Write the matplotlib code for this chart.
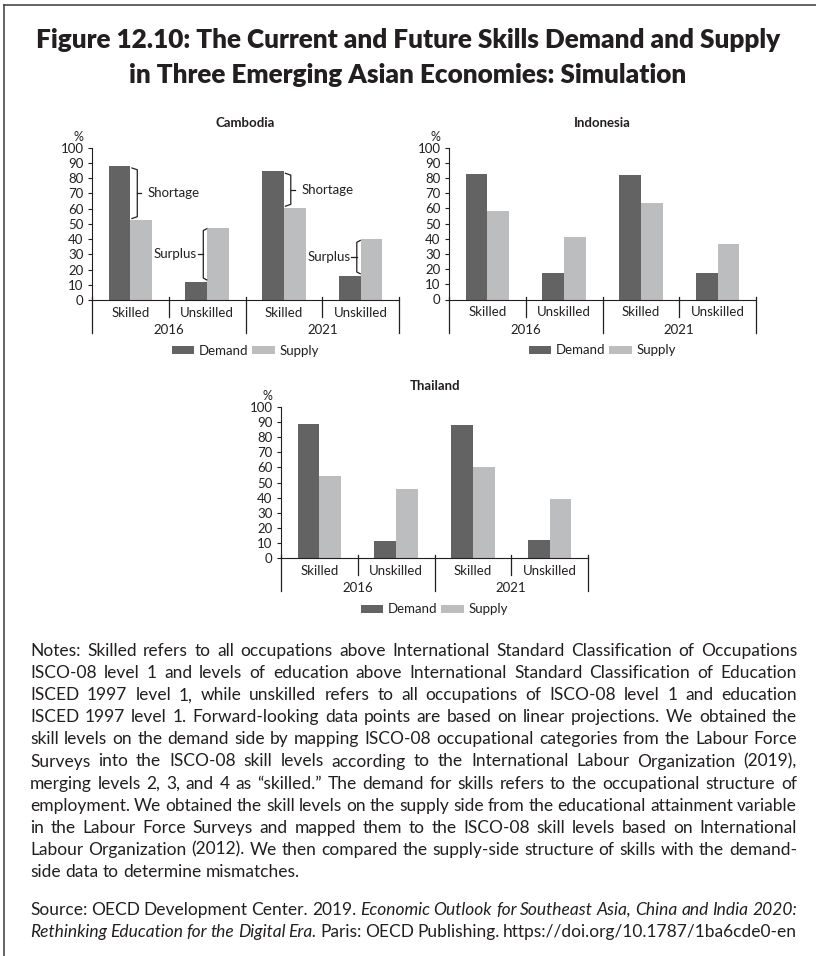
import matplotlib
matplotlib.use('Agg')
import matplotlib.pyplot as plt
from matplotlib.lines import Line2D
from matplotlib.font_manager import FontProperties

plt.rcParams['font.family'] = ['Lato', 'DejaVu Sans']

# ---- data ----
slots = ['Skilled', 'Unskilled', 'Skilled', 'Unskilled']
years = ['2016', '2021']
series = ['Demand', 'Supply']

cambodia_demand = [88.2, 12.0, 84.7, 16.0]
cambodia_supply = [52.5, 47.5, 60.6, 39.8]
indonesia_demand = [82.4, 17.4, 81.8, 17.4]
indonesia_supply = [58.5, 41.5, 63.5, 36.5]
thailand_demand = [88.4, 11.4, 87.7, 12.1]
thailand_supply = [54.3, 45.7, 60.4, 39.1]

title_lines = ['Figure 12.10: The Current and Future Skills Demand and Supply',
               'in Three Emerging Asian Economies: Simulation']

notes_lines = [
    'Notes: Skilled refers to all occupations above International Standard Classification of Occupations',
    'ISCO-08 level 1 and levels of education above International Standard Classification of Education',
    'ISCED 1997 level 1, while unskilled refers to all occupations of ISCO-08 level 1 and education',
    'ISCED 1997 level 1. Forward-looking data points are based on linear projections. We obtained the',
    'skill levels on the demand side by mapping ISCO-08 occupational categories from the Labour Force',
    'Surveys into the ISCO-08 skill levels according to the International Labour Organization (2019),',
    'merging levels 2, 3, and 4 as \u201cskilled.\u201d The demand for skills refers to the occupational structure of',
    'employment. We obtained the skill levels on the supply side from the educational attainment variable',
    'in the Labour Force Surveys and mapped them to the ISCO-08 skill levels based on International',
    'Labour Organization (2012). We then compared the supply-side structure of skills with the demand-',
    'side data to determine mismatches.',
]
source_lines = [
    [('Source: OECD Development Center. 2019.', 'normal'),
     ('Economic Outlook for Southeast Asia, China and India 2020:', 'italic')],
    [('Rethinking Education for the Digital Era.', 'italic'),
     ('Paris: OECD Publishing. https://doi.org/10.1787/1ba6cde0-en', 'normal')],
]

DARK = '#636363'
LIGHT = '#bcbdbf'
TXT = '#231f20'
W, H = 816, 956
LAB = 9.5

fig = plt.figure(figsize=(W / 100, H / 100), dpi=100)


def axes_px(left, top, right, bottom):
    return fig.add_axes([left / W, 1 - bottom / H, (right - left) / W, (bottom - top) / H])


def panel(ax, name, dem, sup, title_pad):
    x = list(range(len(slots)))
    bw = 0.285
    ax.bar([i - bw / 2 for i in x], dem, bw, color=DARK, label=series[0], linewidth=0)
    ax.bar([i + bw / 2 for i in x], sup, bw, color=LIGHT, label=series[1], linewidth=0)
    ax.set_xlim(-0.5, 3.5)
    ax.set_ylim(0, 100)
    ax.set_yticks(range(0, 101, 10))
    ax.set_xticks([])
    ax.tick_params(axis='y', length=3, width=0.8, pad=3, labelsize=9.5,
                   colors=TXT, direction='out')
    for s in ['top', 'right', 'bottom']:
        ax.spines[s].set_visible(False)
    ax.spines['left'].set_color(TXT)
    ax.spines['left'].set_linewidth(0.8)
    ax.axhline(0, color=TXT, lw=0.8, clip_on=False)
    ax.set_title(name, fontsize=9.5, fontweight='bold', color=TXT, pad=title_pad)
    ax.annotate('%', xy=(0, 1), xycoords='axes fraction', xytext=(-14, 11),
                textcoords='offset pixels', ha='center', va='center', fontsize=9, color=TXT)

    h = ax.get_position().height * H
    tr = ax.get_xaxis_transform()
    for i, lab in enumerate(slots):
        ax.annotate(lab, xy=(i, 0), xycoords=tr, xytext=(0, -13), textcoords='offset pixels',
                    ha='center', va='center', fontsize=LAB, color=TXT)
    for j, yr in enumerate(years):
        ax.annotate(yr, xy=(2 * j + 0.5, 0), xycoords=tr, xytext=(0, -30),
                    textcoords='offset pixels', ha='center', va='center', fontsize=LAB, color=TXT)
    for b in [-0.5, 0.5, 1.5, 2.5, 3.5]:
        length = 33 if b in (-0.5, 1.5, 3.5) else 17
        ax.plot([b, b], [3 / h, -length / h], transform=tr, color=TXT, lw=0.9, clip_on=False)

    ax.legend(loc='center', bbox_to_anchor=(0.5, -51 / h), ncol=2, frameon=False,
              fontsize=LAB, handlelength=1.7, handleheight=0.55, handletextpad=0.35,
              columnspacing=0.3, borderaxespad=0, labelcolor=TXT)


def brackets(ax, dem, sup):
    kw = dict(color=TXT, lw=0.9, solid_joinstyle='round', clip_on=False)
    for i, (d, s) in enumerate(zip(dem, sup)):
        if d > s:
            top, bot = d - 1.5, s + 1.0
            mid = (top + bot) / 2
            xv, xh, xt = i + 0.09, i + 0.02, i + 0.14
            ax.plot([xh, xv, xv, xh], [top, top - 1.2, bot + 1.2, bot], **kw)
            ax.plot([xv, xt], [mid, mid], **kw)
            ax.text(i + 0.23, mid, 'Shortage', ha='left', va='center', fontsize=LAB, color=TXT)
        else:
            top, bot = s - 0.7, d + 1.2
            mid = (top + bot) / 2
            xv, xh, xt = i - 0.05, i - 0.005, i - 0.12
            ax.plot([xh, xv, xv, xh], [top, top - 1.2, bot + 1.2, bot], **kw)
            ax.plot([xv, xt], [mid, mid], **kw)
            ax.text(i - 0.135, mid, 'Surplus', ha='right', va='center', fontsize=LAB, color=TXT)


ax1 = axes_px(92, 147.7, 399, 300)
ax2 = axes_px(449, 147.7, 756, 299.5)
ax3 = axes_px(281, 406.7, 588, 558.3)
panel(ax1, 'Cambodia', cambodia_demand, cambodia_supply, 15)
panel(ax2, 'Indonesia', indonesia_demand, indonesia_supply, 15)
panel(ax3, 'Thailand', thailand_demand, thailand_supply, 12)
brackets(ax1, cambodia_demand, cambodia_supply)

# ---- figure title ----
fig.text(0.5, 1 - 48 / H, title_lines[0], ha='center', va='baseline',
         fontsize=18.8, fontweight='heavy', color=TXT)
fig.text(0.5, 1 - 83 / H, title_lines[1], ha='center', va='baseline',
         fontsize=18.8, fontweight='heavy', color=TXT)

# ---- frame lines (top and left) ----
fig.add_artist(Line2D([4 / W, 4 / W], [0, 1 - 5 / H], color='#3a3a3a', lw=1.1))
fig.add_artist(Line2D([4 / W, 1], [1 - 5 / H, 1 - 5 / H], color='#3a3a3a', lw=1.1))

# ---- notes, justified ----
renderer = fig.canvas.get_renderer()
X0, X1 = 30, 797


def text_w(s, fs, style='normal'):
    prop = FontProperties(family=['Lato', 'DejaVu Sans'], size=fs, style=style)
    w, _, _ = renderer.get_text_width_height_descent(s, prop, ismath=False)
    return w


def line_tokens(parts):
    toks = []
    for txt, st in parts:
        for wd in txt.split(' '):
            toks.append((wd, st))
    return toks


all_lines = [[(ln, 'normal')] for ln in notes_lines[:-1]] + source_lines
fs = 13
space = text_w('a a', fs) - text_w('aa', fs)
widest = max(sum(text_w(w, fs, st) for w, st in line_tokens(p)) + (len(line_tokens(p)) - 1) * space * 0.8
             for p in all_lines)
if widest > (X1 - X0):
    fs = fs * (X1 - X0) / widest
space = text_w('a a', fs) - text_w('aa', fs)


def put_line(parts, base_y, justify=True):
    toks = line_tokens(parts)
    widths = [text_w(w, fs, st) for w, st in toks]
    gap = (X1 - X0 - sum(widths)) / (len(toks) - 1) if justify and len(toks) > 1 else space
    x = X0
    for (wd, st), wv in zip(toks, widths):
        fig.text(x / W, 1 - base_y / H, wd, fontsize=fs, style=st, color=TXT,
                 ha='left', va='baseline')
        x += wv + gap


for k, ln in enumerate(notes_lines):
    put_line([(ln, 'normal')], 656 + k * 22.1, justify=(k < len(notes_lines) - 1))
put_line(source_lines[0], 915)
put_line(source_lines[1], 937)

fig.savefig('out.png', dpi=100)
